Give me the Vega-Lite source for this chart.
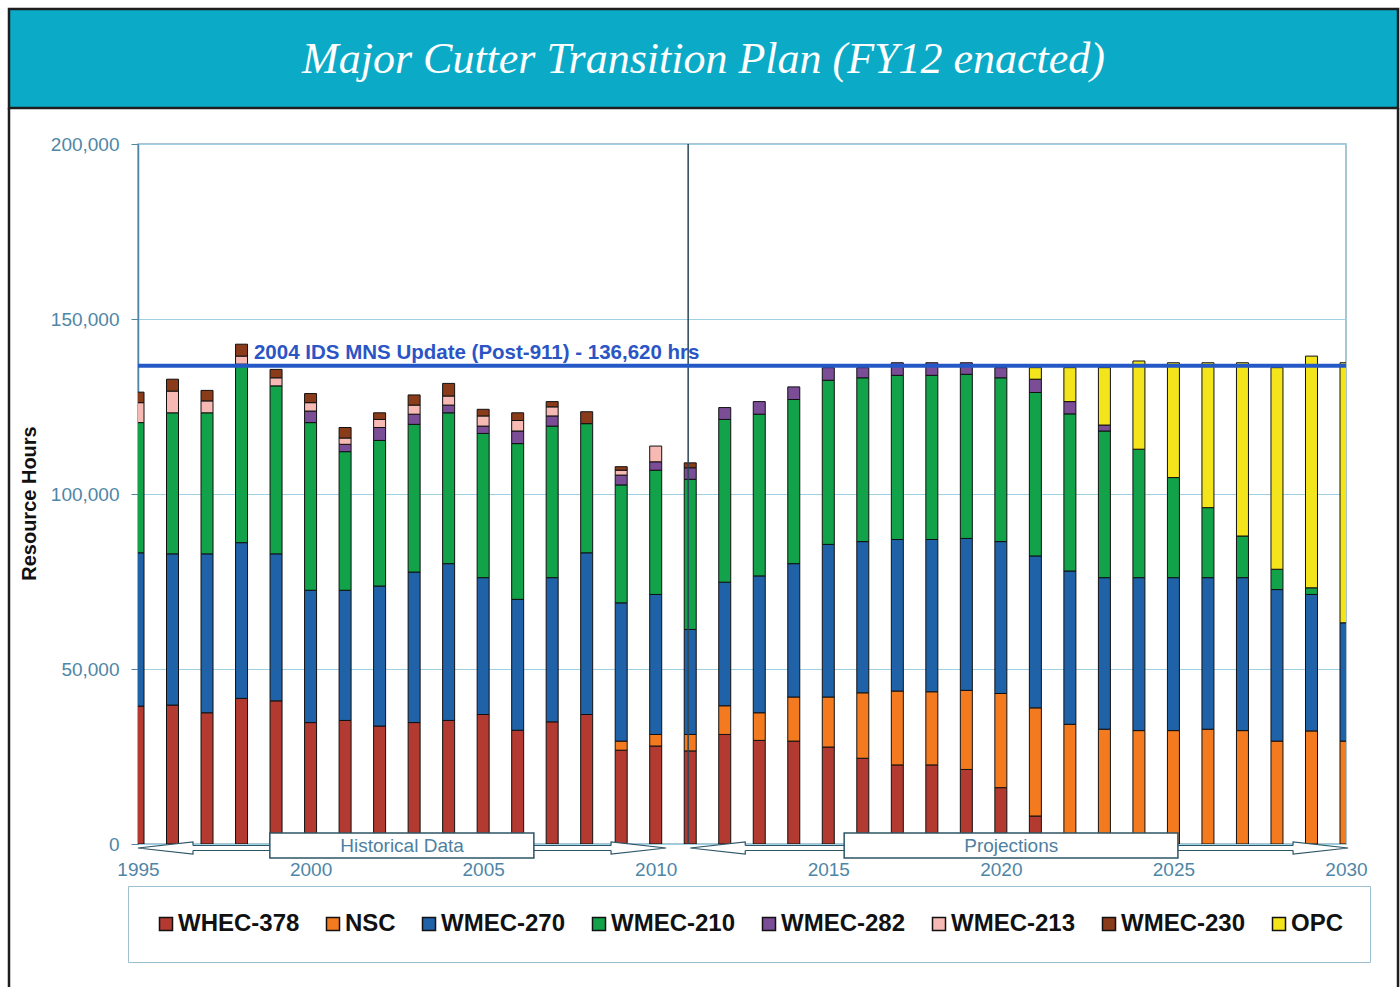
{
  "$schema": "https://vega.github.io/schema/vega-lite/v6.json",
  "background": "white",
  "padding": {"left": 7, "top": 7, "right": 0, "bottom": 0},
  "config": {"font": "Liberation Sans"},
  "width": 1208,
  "height": 700,
  "view": {"stroke": "#8fb3c4", "strokeWidth": 1.5},
  "layer": [
    {
      "data": {"values": [
        {"year": 1995, "WHEC-378": 39400, "WMEC-270": 43800, "WMEC-210": 37200, "WMEC-213": 5700, "WMEC-230": 3000},
        {"year": 1996, "WHEC-378": 39700, "WMEC-270": 43200, "WMEC-210": 40300, "WMEC-213": 6200, "WMEC-230": 3400},
        {"year": 1997, "WHEC-378": 37500, "WMEC-270": 45400, "WMEC-210": 40300, "WMEC-213": 3400, "WMEC-230": 3000},
        {"year": 1998, "WHEC-378": 41600, "WMEC-270": 44500, "WMEC-210": 51000, "WMEC-213": 2300, "WMEC-230": 3400},
        {"year": 1999, "WHEC-378": 40900, "WMEC-270": 42000, "WMEC-210": 48000, "WMEC-213": 2300, "WMEC-230": 2400},
        {"year": 2000, "WHEC-378": 34700, "WMEC-270": 37800, "WMEC-210": 47900, "WMEC-282": 3300, "WMEC-213": 2400, "WMEC-230": 2600},
        {"year": 2001, "WHEC-378": 35300, "WMEC-270": 37200, "WMEC-210": 39600, "WMEC-282": 2100, "WMEC-213": 1800, "WMEC-230": 3000},
        {"year": 2002, "WHEC-378": 33700, "WMEC-270": 40000, "WMEC-210": 41600, "WMEC-282": 3700, "WMEC-213": 2300, "WMEC-230": 1900},
        {"year": 2003, "WHEC-378": 34700, "WMEC-270": 43000, "WMEC-210": 42200, "WMEC-282": 2900, "WMEC-213": 2600, "WMEC-230": 2900},
        {"year": 2004, "WHEC-378": 35300, "WMEC-270": 44800, "WMEC-210": 43100, "WMEC-282": 2200, "WMEC-213": 2600, "WMEC-230": 3600},
        {"year": 2005, "WHEC-378": 37000, "WMEC-270": 39100, "WMEC-210": 41200, "WMEC-282": 2100, "WMEC-213": 2900, "WMEC-230": 1900},
        {"year": 2006, "WHEC-378": 32500, "WMEC-270": 37400, "WMEC-210": 44500, "WMEC-282": 3600, "WMEC-213": 3000, "WMEC-230": 2200},
        {"year": 2007, "WHEC-378": 34900, "WMEC-270": 41200, "WMEC-210": 43300, "WMEC-282": 2900, "WMEC-213": 2600, "WMEC-230": 1500},
        {"year": 2008, "WHEC-378": 37000, "WMEC-270": 46200, "WMEC-210": 36900, "WMEC-230": 3400},
        {"year": 2009, "WHEC-378": 26800, "NSC": 2600, "WMEC-270": 39500, "WMEC-210": 33700, "WMEC-282": 2800, "WMEC-213": 1400, "WMEC-230": 1000},
        {"year": 2010, "WHEC-378": 28000, "NSC": 3300, "WMEC-270": 40000, "WMEC-210": 35500, "WMEC-282": 2400, "WMEC-213": 4500},
        {"year": 2011, "WHEC-378": 26600, "NSC": 4700, "WMEC-270": 30000, "WMEC-210": 42900, "WMEC-282": 3300, "WMEC-230": 1400},
        {"year": 2012, "WHEC-378": 31300, "NSC": 8200, "WMEC-270": 35300, "WMEC-210": 46500, "WMEC-282": 3400},
        {"year": 2013, "WHEC-378": 29600, "NSC": 7900, "WMEC-270": 39100, "WMEC-210": 46200, "WMEC-282": 3600},
        {"year": 2014, "WHEC-378": 29400, "NSC": 12600, "WMEC-270": 38100, "WMEC-210": 46900, "WMEC-282": 3600},
        {"year": 2015, "WHEC-378": 27700, "NSC": 14300, "WMEC-270": 43600, "WMEC-210": 46900, "WMEC-282": 3600},
        {"year": 2016, "WHEC-378": 24500, "NSC": 18700, "WMEC-270": 43200, "WMEC-210": 46800, "WMEC-282": 2900},
        {"year": 2017, "WHEC-378": 22600, "NSC": 21100, "WMEC-270": 43300, "WMEC-210": 46900, "WMEC-282": 3600},
        {"year": 2018, "WHEC-378": 22600, "NSC": 20900, "WMEC-270": 43500, "WMEC-210": 46900, "WMEC-282": 3600},
        {"year": 2019, "WHEC-378": 21300, "NSC": 22600, "WMEC-270": 43400, "WMEC-210": 46900, "WMEC-282": 3300},
        {"year": 2020, "WHEC-378": 16100, "NSC": 26900, "WMEC-270": 43400, "WMEC-210": 46800, "WMEC-282": 2900},
        {"year": 2021, "WHEC-378": 8000, "NSC": 30900, "WMEC-270": 43400, "WMEC-210": 46700, "WMEC-282": 3800, "OPC": 3300},
        {"year": 2022, "NSC": 34200, "WMEC-270": 43800, "WMEC-210": 44900, "WMEC-282": 3500, "OPC": 9700},
        {"year": 2023, "NSC": 32800, "WMEC-270": 43300, "WMEC-210": 41900, "WMEC-282": 1700, "OPC": 16400},
        {"year": 2024, "NSC": 32400, "WMEC-270": 43700, "WMEC-210": 36700, "OPC": 25200},
        {"year": 2025, "NSC": 32400, "WMEC-270": 43700, "WMEC-210": 28600, "OPC": 32800},
        {"year": 2026, "NSC": 32800, "WMEC-270": 43300, "WMEC-210": 20000, "OPC": 41400},
        {"year": 2027, "NSC": 32400, "WMEC-270": 43700, "WMEC-210": 11900, "OPC": 49500},
        {"year": 2028, "NSC": 29400, "WMEC-270": 43300, "WMEC-210": 5800, "OPC": 57600},
        {"year": 2029, "NSC": 32300, "WMEC-270": 39000, "WMEC-210": 1900, "OPC": 66200},
        {"year": 2030, "NSC": 29400, "WMEC-270": 33800, "OPC": 74300}
      ]},
      "transform": [
        {"fold": ["WHEC-378", "NSC", "WMEC-270", "WMEC-210", "WMEC-282", "WMEC-213", "WMEC-230", "OPC"], "as": ["cutter", "hours"]},
        {"filter": "datum.hours > 0"},
        {"window": [{"op": "row_number", "as": "rank"}], "groupby": ["year"]}
      ],
      "mark": {"type": "bar", "width": 12, "stroke": "#111", "strokeWidth": 1, "clip": true},
      "encoding": {
        "x": {
          "field": "year", "type": "quantitative",
          "scale": {"domain": [1995, 2030], "nice": false, "zero": false, "padding": 0},
          "axis": {"title": null, "values": [1995, 2000, 2005, 2010, 2015, 2020, 2025, 2030], "format": "d", "grid": false, "ticks": false, "tickSize": 0, "domain": false, "labelFlush": false, "labelOverlap": false, "labelPadding": 16, "labelBaseline": "top", "labelFontSize": 19, "labelColor": "#4f86a6", "labelFont": "Liberation Sans"}
        },
        "y": {
          "field": "hours", "type": "quantitative", "stack": "zero",
          "scale": {"domain": [0, 200000], "nice": false},
          "axis": {"title": "Resource Hours", "values": [0, 50000, 100000, 150000, 200000], "format": ",d", "grid": true, "gridColor": "#9dd1e3", "gridWidth": 1, "tickSize": 7, "tickColor": "#4f87a3", "domainColor": "#4f87a3", "domainWidth": 1.5, "labelPadding": 12, "labelFontSize": 19, "labelColor": "#4f86a6", "labelFont": "Liberation Sans", "titleFont": "Liberation Sans", "titleFontSize": 20, "titleFontWeight": "bold", "titleColor": "#111", "titleAngle": -90, "titleAlign": "center", "titleBaseline": "middle", "titleX": -109, "titleY": 359}
        },
        "order": {"field": "rank", "type": "quantitative", "sort": "ascending"},
        "color": {
          "field": "cutter", "type": "nominal",
          "sort": ["WHEC-378", "NSC", "WMEC-270", "WMEC-210", "WMEC-282", "WMEC-213", "WMEC-230", "OPC"],
          "scale": {
            "domain": ["WHEC-378", "NSC", "WMEC-270", "WMEC-210", "WMEC-282", "WMEC-213", "WMEC-230", "OPC"],
            "range": ["#b23a30", "#f47a20", "#2062a8", "#12a24a", "#7a4d96", "#f6b9b3", "#8a3b1a", "#f3e41c"]
          },
          "legend": {"title": null, "orient": "none", "legendX": -10, "legendY": 742, "direction": "horizontal", "columns": 8, "symbolType": "square", "symbolSize": 169, "symbolStrokeColor": "#111", "symbolStrokeWidth": 1.5, "symbolOpacity": 1, "labelFont": "Liberation Sans", "labelFontSize": 24, "labelFontWeight": "bold", "labelColor": "#111", "labelOffset": 0, "columnPadding": 21, "padding": 26, "strokeColor": "#9cc0d0", "fillColor": "white", "labelLimit": 300}
        }
      }
    },
    {
      "data": {"values": [{"split": 2010.94}]},
      "mark": {"type": "rule", "color": "#2a4656", "strokeWidth": 1.5},
      "encoding": {"x": {"field": "split", "type": "quantitative"}}
    },
    {
      "data": {"values": [{"note": "2004 IDS MNS Update (Post-911) - 136,620 hrs", "hours": 136620}]},
      "layer": [
        {
          "mark": {"type": "rule", "color": "#2458c6", "strokeWidth": 4},
          "encoding": {"y": {"field": "hours", "type": "quantitative"}}
        },
        {
          "mark": {"type": "text", "align": "left", "baseline": "bottom", "dy": -3, "font": "Liberation Sans", "fontSize": 20.5, "fontWeight": "bold", "color": "#2b55c5"},
          "encoding": {
            "x": {"datum": 1998.36},
            "y": {"field": "hours", "type": "quantitative"},
            "text": {"field": "note"}
          }
        }
      ]
    },
    {
      "data": {"values": [
        {"label": "Historical Data", "start": 1995, "end": 2010.3, "boxStart": 1998.82, "boxEnd": 2006.47, "mid": 2002.65},
        {"label": "Projections", "start": 2011.0, "end": 2030.06, "boxStart": 2015.46, "boxEnd": 2025.13, "mid": 2020.3}
      ]},
      "layer": [
        {
          "mark": {"type": "rect", "fill": "white", "stroke": "#2c5566", "strokeWidth": 1.2, "xOffset": 54, "x2Offset": -54},
          "encoding": {
            "x": {"field": "start", "type": "quantitative"},
            "x2": {"field": "end"},
            "y": {"datum": -429},
            "y2": {"datum": -1857}
          }
        },
        {
          "mark": {"type": "point", "filled": true, "fill": "white", "stroke": "#2c5566", "strokeWidth": 1.2, "opacity": 1, "size": 3025, "shape": "M2,0.0909L2,0.218L0,0L2,-0.218L2,-0.0909"},
          "encoding": {
            "x": {"field": "start", "type": "quantitative"},
            "y": {"datum": -1143}
          }
        },
        {
          "mark": {"type": "point", "filled": true, "fill": "white", "stroke": "#2c5566", "strokeWidth": 1.2, "opacity": 1, "size": 3025, "shape": "M-2,0.0909L-2,0.218L0,0L-2,-0.218L-2,-0.0909"},
          "encoding": {
            "x": {"field": "end", "type": "quantitative"},
            "y": {"datum": -1143}
          }
        },
        {
          "mark": {"type": "rect", "fill": "white", "stroke": "#2c5566", "strokeWidth": 1.5},
          "encoding": {
            "x": {"field": "boxStart", "type": "quantitative"},
            "x2": {"field": "boxEnd"},
            "y": {"datum": 3143},
            "y2": {"datum": -4000}
          }
        },
        {
          "mark": {"type": "text", "font": "Liberation Sans", "fontSize": 19, "color": "#4f7fa0", "baseline": "middle"},
          "encoding": {
            "x": {"field": "mid", "type": "quantitative"},
            "y": {"datum": -430},
            "text": {"field": "label"}
          }
        }
      ]
    },
    {
      "data": {"values": [{"edge": 1991.2624}, {"edge": 2031.507}]},
      "mark": {"type": "rule", "color": "#1e1e1e", "strokeWidth": 2.5},
      "encoding": {
        "x": {"field": "edge", "type": "quantitative"},
        "y": {"datum": 210286},
        "y2": {"datum": -41143}
      }
    },
    {
      "data": {"values": [{"t": "Major Cutter Transition Plan (FY12 enacted)"}]},
      "layer": [
        {
          "mark": {"type": "rect", "fill": "#0babc8", "stroke": "#1e1e1e", "strokeWidth": 2.5},
          "encoding": {
            "x": {"datum": 1991.2624},
            "x2": {"datum": 2031.507},
            "y": {"datum": 238571},
            "y2": {"datum": 210286}
          }
        },
        {
          "mark": {"type": "text", "font": "Liberation Serif", "fontStyle": "italic", "fontSize": 44, "color": "white", "baseline": "middle", "dy": 1},
          "encoding": {
            "x": {"datum": 2011.385},
            "y": {"datum": 224428},
            "text": {"field": "t"}
          }
        }
      ]
    }
  ]
}
